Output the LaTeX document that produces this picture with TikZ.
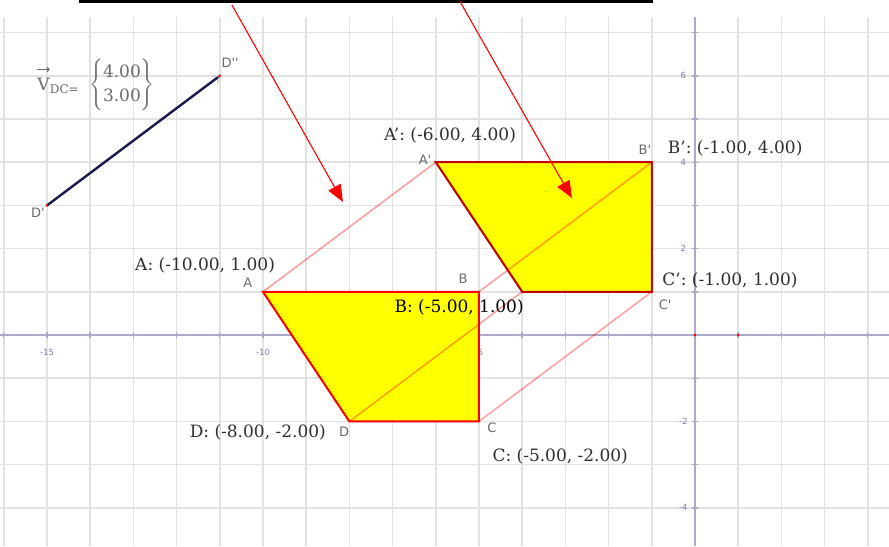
\documentclass[tikz,border=0pt]{standalone}
\usepackage{amsmath}
\usepackage{fontspec}
\setmainfont{DejaVu Serif}
\newfontfamily\ptfont{DejaVu Sans}
\usetikzlibrary{arrows.meta}
\definecolor{GridGray}{HTML}{E2E2E2}
\definecolor{AxisBlue}{HTML}{A9A9CD}
\definecolor{AxisText}{HTML}{7C7CA8}
\definecolor{ShapeYellow}{HTML}{FFFF00}
\definecolor{ShapeRed}{HTML}{FF0000}
\definecolor{ImageRed}{HTML}{C00000}
\definecolor{VectorNavy}{HTML}{1A1A4A}
\definecolor{LabelGray}{HTML}{2E2E2E}
\definecolor{PointGray}{HTML}{6A6A6A}
\tikzset{
  gridline/.style={draw=GridGray,line width=1.5pt},
  axisline/.style={draw=AxisBlue,line width=1.6pt},
  axistick/.style={draw=AxisBlue,line width=1.4pt},
  ticklabel/.style={font=\ptfont\fontsize{8.5}{8.5}\selectfont,text=AxisText,inner sep=0pt},
  coordlabel/.style={font=\fontsize{17}{17}\selectfont,text=LabelGray,inner sep=0pt},
  ptlabel/.style={font=\ptfont\fontsize{13}{13}\selectfont,text=PointGray,inner sep=0pt},
  veclabel/.style={font=\fontsize{17}{24}\selectfont,text=PointGray,inner sep=0pt},
  vecsub/.style={font=\fontsize{12}{12}\selectfont,text=PointGray,inner sep=0pt},
  vecmark/.style={draw=PointGray,line width=1.1pt,-{To[length=3pt,width=5pt]}},
  vertex/.style={circle,fill=red,inner sep=0pt,minimum size=3pt},
  preimage/.style={draw=ShapeRed,line width=2pt},
  imageedge/.style={draw=ImageRed,line width=2pt},
  trackline/.style={draw=red,draw opacity=0.38,line width=1.5pt},
  vecline/.style={draw=VectorNavy,line width=2.4pt,-{Straight Barb[length=6pt,width=9pt,line width=0.8pt,color=black!30]}},
  pointer/.style={draw=red,line width=1.1pt,-{Triangle[length=17pt,width=14pt]}},
  topbar/.style={draw=black,line width=3pt}
}
\begin{document}
\begin{tikzpicture}[x=43.2pt,y=43.2pt]
  \useasboundingbox (-16.088,-4.884) rectangle (4.491,7.755);
  \foreach \x in {-16,...,4} \draw[gridline] (\x,-4.884) -- (\x,7.36);
  \foreach \y in {-4,...,7} \draw[gridline] (-16.088,\y) -- (4.491,\y);
  \draw[axisline] (-16.088,0) -- (4.491,0);
  \draw[axisline] (0,-4.884) -- (0,7.36);
  \foreach \x in {-16,...,4} \draw[axistick] (\x,-0.07) -- (\x,0.07);
  \foreach \y in {-4,...,7} \draw[axistick] (-0.07,\y) -- (0.07,\y);
  \foreach \x/\n in {-15/a,-10/b,-5/c} \node[ticklabel] (xl\n) at (\x,-0.4) {\x};
  \foreach \y/\n in {-4/a,-2/b,2/c,4/d,6/e} \node[ticklabel] (yl\n) at (-0.27,\y) {\y};
  \node[vertex] (orig) at (0,0) {};
  \node[vertex] (unit) at (1,0) {};

  \coordinate (A) at (-10,1);
  \coordinate (B) at (-5,1);
  \coordinate (C) at (-5,-2);
  \coordinate (D) at (-8,-2);
  \coordinate (Ai) at (-6,4);
  \coordinate (Bi) at (-1,4);
  \coordinate (Ci) at (-1,1);
  \coordinate (Di) at (-4,1);
  \fill[ShapeYellow] (A) -- (B) -- (C) -- (D) -- cycle;
  \fill[ShapeYellow] (Ai) -- (Bi) -- (Ci) -- (Di) -- cycle;
  \draw[trackline] (A) -- (Ai);
  \draw[trackline] (B) -- (Bi);
  \draw[trackline] (C) -- (Ci);
  \draw[trackline] (D) -- (Di);
  \draw[preimage] (A) -- (B) -- (C) -- (D) -- cycle;
  \draw[imageedge] (Ai) -- (Bi) -- (Ci) -- (Di) -- cycle;

  \node[ptlabel] (lA) at (-10.35,1.20) {A};
  \node[ptlabel] (lB) at (-5.37,1.30) {B};
  \node[ptlabel] (lC) at (-4.70,-2.15) {C};
  \node[ptlabel] (lD) at (-8.12,-2.25) {D};
  \node[ptlabel] (lAi) at (-6.25,4.05) {A'};
  \node[ptlabel] (lBi) at (-1.16,4.28) {B'};
  \node[ptlabel] (lCi) at (-0.69,0.69) {C'};
  \node[coordlabel] (cA) at (-11.34,1.62) {A: (-10.00, 1.00)};
  \node[coordlabel,text=black] (cB) at (-5.46,0.65) {B: (-5.00, 1.00)};
  \node[coordlabel] (cC) at (-3.12,-2.82) {C: (-5.00, -2.00)};
  \node[coordlabel] (cD) at (-10.12,-2.25) {D: (-8.00, -2.00)};
  \node[coordlabel] (cAi) at (-5.67,4.63) {A': (-6.00, 4.00)};
  \node[coordlabel] (cBi) at (0.93,4.33) {B': (-1.00, 4.00)};
  \node[coordlabel] (cCi) at (0.81,1.27) {C': (-1.00, 1.00)};

  \coordinate (Dv) at (-15,3);
  \coordinate (Dw) at (-11,6);
  \draw[vecline] (Dv) -- (Dw);
  \node[vertex] (dDv) at (Dv) {};
  \node[vertex] (dDw) at (Dw) {};
  \node[ptlabel] (lDv) at (-15.21,2.82) {D'};
  \node[ptlabel] (lDw) at (-10.76,6.30) {D''};
  \node[veclabel,anchor=base west] (vsym) at (-15.23,5.67) {V};
  \node[vecsub,anchor=base west,yshift=-3pt] (vsub) at (vsym.base east) {DC=};
  \draw[vecmark] ([yshift=8pt]vsym.north west) -- ([yshift=8pt]vsym.north east);
  \node[veclabel,anchor=west] (vcol) at (-14.03,5.79) {$\left\{\begin{tabular}{@{}c@{}}4.00\\3.00\end{tabular}\right\}$};

  \coordinate (barL) at (-14.26,7.72);
  \coordinate (barR) at (-0.97,7.72);
  \draw[topbar] (barL) -- (barR);
  \coordinate (p1) at (-10.72,7.64);
  \coordinate (q1) at (-8.15,3.08);
  \coordinate (p2) at (-5.44,7.72);
  \coordinate (q2) at (-2.85,3.17);
  \draw[pointer] (p1) -- (q1);
  \draw[pointer] (p2) -- (q2);
\end{tikzpicture}
\end{document}
